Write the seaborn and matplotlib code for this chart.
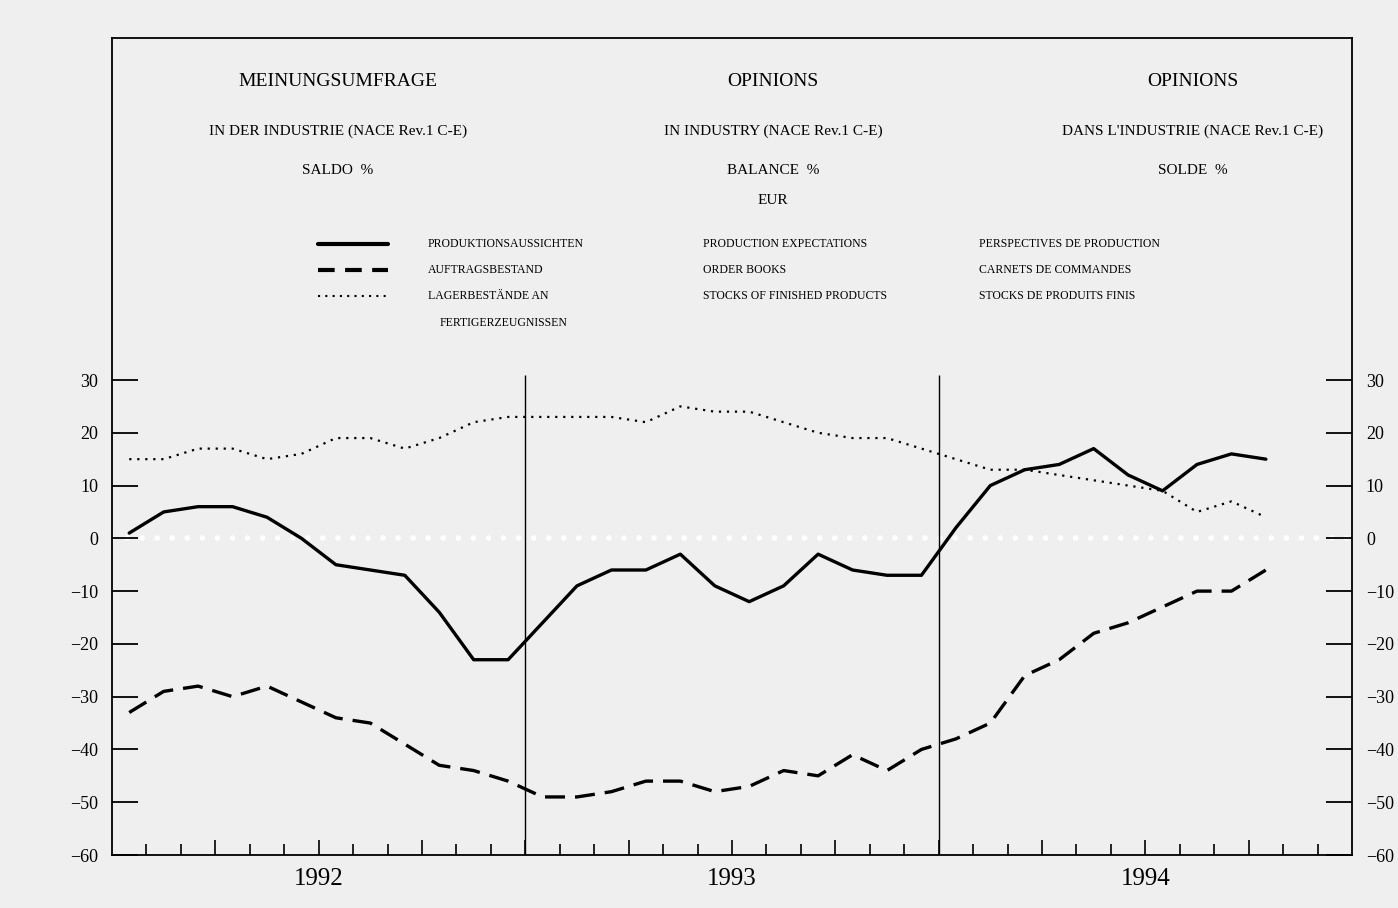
import numpy as np
import pandas as pd
import matplotlib
matplotlib.use("Agg")
import matplotlib.pyplot as plt
import seaborn as sns

# ==========================================
# 1. DATA (monthly balances, Jan 1992 - Oct 1994)
# ==========================================
years = [1992, 1993, 1994]
production = [1, 5, 6, 6, 4, 0, -5, -6, -7, -14, -23, -23,
              -16, -9, -6, -6, -3, -9, -12, -9, -3, -6, -7, -7,
              2, 10, 13, 14, 17, 12, 9, 14, 16, 15]
orders = [-33, -29, -28, -30, -28, -31, -34, -35, -39, -43, -44, -46,
          -49, -49, -48, -46, -46, -48, -47, -44, -45, -41, -44, -40,
          -38, -35, -26, -23, -18, -16, -13, -10, -10, -6]
stocks = [15, 15, 17, 17, 15, 16, 19, 19, 17, 19, 22, 23,
          23, 23, 23, 22, 25, 24, 24, 22, 20, 19, 19, 17,
          15, 13, 13, 12, 11, 10, 9, 5, 7, 4]
yticks = list(range(-60, 31, 10))

title_cols = [
    ["MEINUNGSUMFRAGE", "IN DER INDUSTRIE (NACE Rev.1 C-E)", "SALDO  %", ""],
    ["OPINIONS", "IN INDUSTRY (NACE Rev.1 C-E)", "BALANCE  %", "EUR"],
    ["OPINIONS", "DANS L'INDUSTRIE (NACE Rev.1 C-E)", "SOLDE  %", ""],
]
legend_de = ["PRODUKTIONSAUSSICHTEN", "AUFTRAGSBESTAND", "LAGERBESTÄNDE AN", "FERTIGERZEUGNISSEN"]
legend_en = ["PRODUCTION EXPECTATIONS", "ORDER BOOKS", "STOCKS OF FINISHED PRODUCTS"]
legend_fr = ["PERSPECTIVES DE PRODUCTION", "CARNETS DE COMMANDES", "STOCKS DE PRODUITS FINIS"]

n_months = 12 * len(years)
df = pd.DataFrame({
    "month": np.arange(len(production)) + 0.5,
    "production": production,
    "orders": orders,
    "stocks": stocks,
})

# ==========================================
# 2. FIGURE
# ==========================================
sns.set_style("white")
plt.rcParams["font.family"] = ["Liberation Serif", "DejaVu Serif"]
plt.rcParams["text.color"] = "black"
plt.rcParams["xtick.color"] = "black"
plt.rcParams["ytick.color"] = "black"

bg = "#efefef"
fig = plt.figure(figsize=(13.98, 9.08), dpi=100, facecolor=bg)
ax = fig.add_axes([112 / 1398, 1 - 855 / 908, (1352 - 112) / 1398, (855 - 38) / 908])
ax.set_facecolor(bg)

# zero line: row of small white dots, kept under the tick marks
ax.axhline(0, color="white", lw=4, linestyle=(0, (0.01, 2.7)),
           dash_capstyle="round", zorder=0.3)

sns.lineplot(data=df, x="month", y="production", color="black", lw=2.4, ax=ax, zorder=3)
sns.lineplot(data=df, x="month", y="orders", color="black", lw=2.4,
             linestyle=(0, (6, 3)), ax=ax, zorder=3)
sns.lineplot(data=df, x="month", y="stocks", color="black", lw=1.6,
             linestyle=(0, (1, 2.6)), ax=ax, zorder=3)

# year separators
ax.vlines([12 * k for k in range(1, len(years))], -60, 31, color="black", lw=1.0, zorder=2)

ax.set_xlim(0, n_months)
ax.set_ylim(-60, 94.8)
ax.set_xlabel("")
ax.set_ylabel("")

ax.set_yticks(yticks)
ax.set_yticklabels([str(v).replace("-", "\u2212") for v in yticks])
ax.tick_params(axis="y", direction="in", length=19, width=1.3, left=True, right=True,
               labelleft=True, labelright=True, labelsize=13, pad=10)

ax.set_xticks(np.arange(3, n_months, 3))
ax.set_xticks(np.arange(1, n_months), minor=True)
ax.set_xticklabels([])
ax.tick_params(axis="x", which="major", direction="in", length=11, width=1.2, bottom=True)
ax.tick_params(axis="x", which="minor", direction="in", length=8, width=1.2, bottom=True)

for i, yr in enumerate(years):
    ax.annotate(str(yr), xy=(12 * i + 6, -60), xytext=(0, -17), textcoords="offset points",
                ha="center", va="center", fontsize=18)

for side in ["left", "right", "top", "bottom"]:
    ax.spines[side].set_visible(True)
    ax.spines[side].set_color("black")
    ax.spines[side].set_linewidth(1.3)

# ==========================================
# 3. HEADER TEXT AND LEGEND
# ==========================================
col_x = [338, 773, 1193]
row_y = [82, 131, 171, 201]
row_fs = [14, 11, 11, 11]
for cx, lines in zip(col_x, title_cols):
    for ry, fs, txt in zip(row_y, row_fs, lines):
        if txt:
            fig.text(cx / 1398, 1 - ry / 908, txt, ha="center", va="center", fontsize=fs)

leg_y = [244, 270, 296, 323]
styles = [dict(ls="-", lw=3.0), dict(ls=(0, (4, 2.5)), lw=3.0), dict(ls=(0, (1, 2.5)), lw=1.5)]
for y, st in zip(leg_y, styles):
    fig.add_artist(plt.Line2D([318 / 1398, 388 / 1398], [1 - y / 908] * 2,
                              color="black", transform=fig.transFigure, **st))

for i, txt in enumerate(legend_de):
    x = 428 if i < 3 else 440
    fig.text(x / 1398, 1 - leg_y[i] / 908, txt, ha="left", va="center", fontsize=8.5)
for i, txt in enumerate(legend_en):
    fig.text(703 / 1398, 1 - leg_y[i] / 908, txt, ha="left", va="center", fontsize=8.5)
for i, txt in enumerate(legend_fr):
    fig.text(979 / 1398, 1 - leg_y[i] / 908, txt, ha="left", va="center", fontsize=8.5)

fig.savefig("out.png", dpi=100, facecolor=bg)
plt.close(fig)
